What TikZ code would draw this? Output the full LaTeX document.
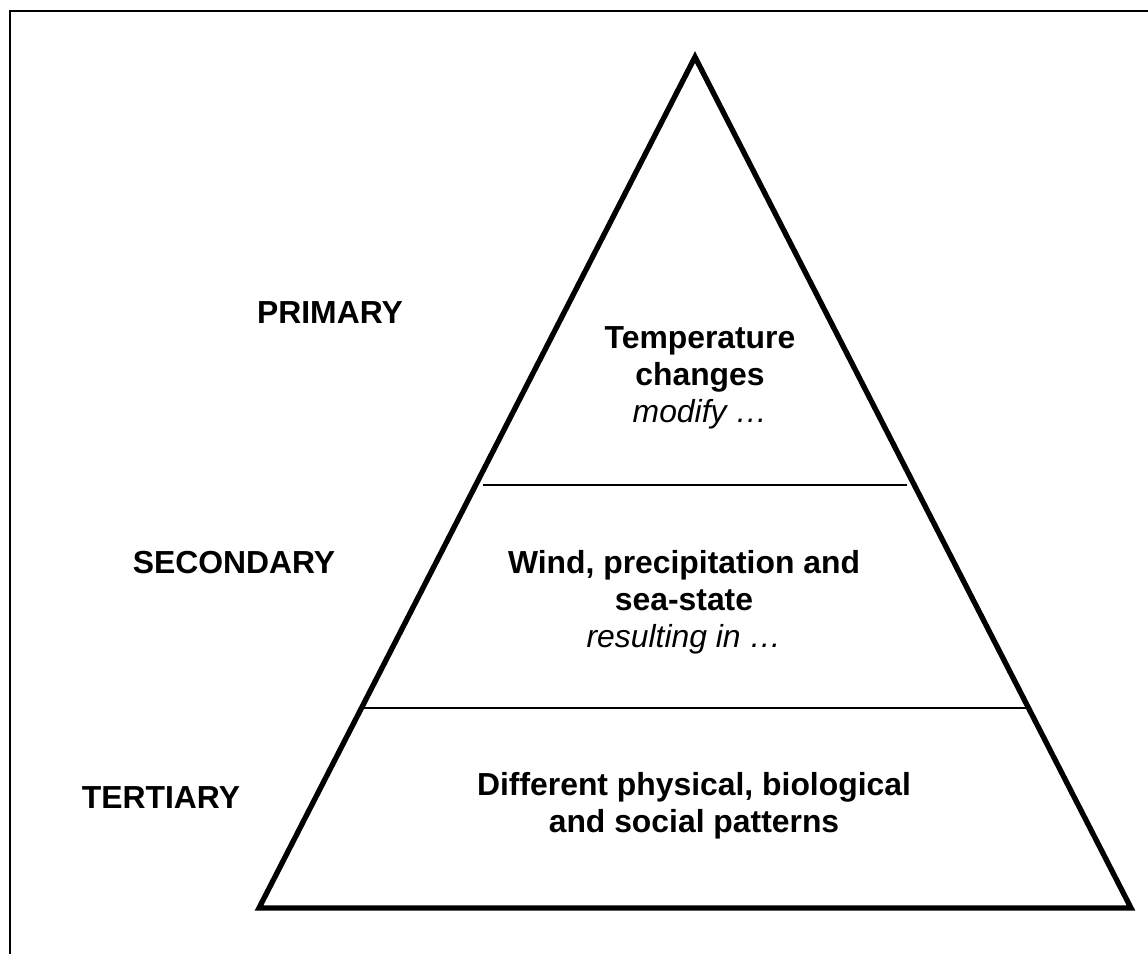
\documentclass[tikz,border=0pt]{standalone}
\usepackage{fontspec}
\setmainfont{Liberation Sans}
\usetikzlibrary{positioning}

\begin{document}
\begin{tikzpicture}[x=0.75pt,y=-0.75pt,
		level/.style={inner sep=0pt,anchor=base,font=\fontsize{23.9}{27.75}\selectfont\bfseries},
		layer/.style={inner sep=0pt,anchor=base,align=center,font=\fontsize{23.9}{27.75}\selectfont\bfseries}]
			\clip (0,0) rectangle (1148,953);
			\draw[line width=1.1pt] (10,11) rectangle (1200,1000);
			
			\coordinate (apex) at (695,57);
			\coordinate (bl) at (259,908);
			\coordinate (br) at (1131,908);
			\coordinate (s1l) at (483,485);
			\coordinate (s1r) at (907,485);
			\coordinate (s2l) at (364,708);
			\coordinate (s2r) at (1028,708);
			
			\draw[line width=4pt,line join=miter] (apex) -- (bl) -- (br) -- cycle;
			\draw[line width=1.5pt] (s1l) -- (s1r);
			\draw[line width=1.5pt] (s2l) -- (s2r);
			
			% base anchor sits on the last line
			\node[layer] (top) at (700,422) {Temperature\\changes\\{\mdseries\itshape modify …}};
			\node[layer] (mid) at (684,647) {Wind, precipitation and\\sea-state\\{\mdseries\itshape resulting in …}};
			\node[layer] (low) at (694,832) {Different physical, biological\\and social patterns};
			
			\node[level] (primary) at (330,323) {PRIMARY};
			\node[level] (secondary) at (234,573) {SECONDARY};
			\node[level] (tertiary) at (161,808) {TERTIARY};
		\end{tikzpicture}
\end{document}
